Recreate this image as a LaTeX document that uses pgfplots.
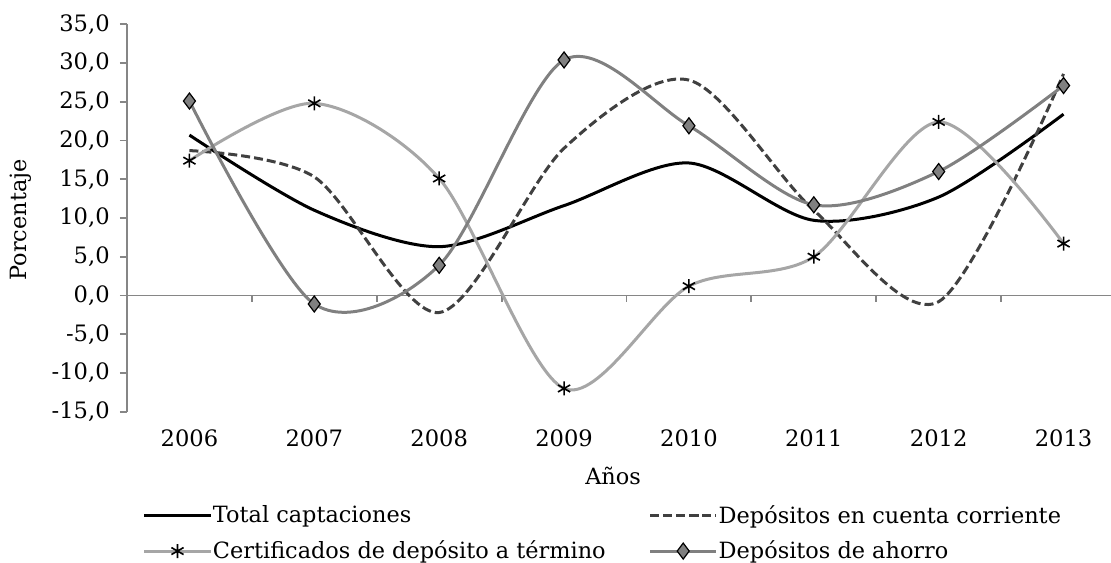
\documentclass[border=0pt]{standalone}
\usepackage{fontspec}
\setmainfont{DejaVu Serif}
\usepackage{pgfplots}
\pgfplotsset{compat=1.18}
\definecolor{axisgray}{RGB}{134,134,134}
\definecolor{ccgray}{RGB}{64,64,64}
\definecolor{certgray}{RGB}{166,166,166}
\definecolor{ahogray}{RGB}{128,128,128}
\newcommand{\lblfont}{\fontsize{11.3}{13}\selectfont}
\newcommand{\legfont}{\fontsize{11.2}{13}\selectfont}
\begin{document}
\lblfont
\begin{tikzpicture}
\begin{axis}[
  scale only axis, width=492pt, height=193.7pt,
  xmin=-0.5, xmax=7.38, ymin=-15, ymax=35,
  axis x line*=bottom, axis y line*=left,
  x axis line style={draw=none},
  y axis line style={color=axisgray, line width=0.9pt},
  xtick={0,1,2,3,4,5,6,7},
  xticklabels={2006,2007,2008,2009,2010,2011,2012,2013},
  xtick style={draw=none},
  ytick={-15,-10,-5,0,5,10,15,20,25,30,35},
  ytick style={color=axisgray, line width=0.9pt},
  tick align=outside, major tick length=3.5pt,
  /pgf/number format/assume math mode=true,
  yticklabel style={/pgf/number format/fixed, /pgf/number format/fixed zerofill, /pgf/number format/precision=1, /pgf/number format/use comma, font=\lblfont, xshift=-1.2pt},
  xticklabel style={font=\lblfont, yshift=-1.3pt},
  ylabel={Porcentaje},
  every axis y label/.style={at={(axis description cs:-0.1077,0.495)}, rotate=90, anchor=center, font=\legfont},
  xlabel={Años},
  every axis x label/.style={at={(axis description cs:0.494,0)}, anchor=center, yshift=-32pt, font=\legfont},
  legend columns=2,
  legend cell align=left,
  legend style={draw=none, fill=none, at={(axis description cs:0,0)}, anchor=north west,
    xshift=4.8pt, yshift=-42.5pt,
    font=\legfont,
    /tikz/every odd column/.append style={column sep=-1.5pt},
    /tikz/every even column/.append style={column sep=19.5pt},
    row sep=3pt},
  legend image code/.code={\draw[mark repeat=2,mark phase=2,#1] plot coordinates {(0pt,0pt) (16.5pt,0pt) (33pt,0pt)};},
]
\coordinate (TL) at (rel axis cs:0,1);
\draw[color=axisgray, line width=0.9pt] (axis cs:-0.5,0) -- (axis cs:7.38,0);
\pgfplotsinvokeforeach{0.5,1.5,2.5,3.5,4.5,5.5,6.5}{
  \draw[color=axisgray, line width=0.9pt] (axis cs:#1,0) -- ++(0pt,-3.5pt);
}
\addplot[black, line width=1.5pt, smooth] coordinates {(0,20.7)(1,11.0)(2,6.3)(3,11.6)(4,17.1)(5,9.7)(6,12.7)(7,23.4)};
\addlegendentry{Total captaciones}
\addplot[ccgray, line width=1.5pt, dash pattern=on 4.5pt off 2pt, smooth] coordinates {(0,18.7)(1,15.3)(2,-2.2)(3,19.0)(4,27.8)(5,11.0)(6,-0.8)(7,28.6)};
\addlegendentry{Depósitos en cuenta corriente}
\addplot[certgray, line width=1.5pt, smooth, mark=asterisk, mark size=3.5pt, mark options={black, solid, line width=0.8pt}] coordinates {(0,17.4)(1,24.8)(2,15.1)(3,-12.0)(4,1.2)(5,5.0)(6,22.4)(7,6.7)};
\addlegendentry{Certificados de depósito a término}
\addplot[ahogray, line width=1.5pt, smooth, mark=diamond*, mark size=4pt, mark options={fill=ahogray, draw=black, solid, line width=0.6pt}] coordinates {(0,25.1)(1,-1.1)(2,3.9)(3,30.4)(4,21.9)(5,11.7)(6,16.0)(7,27.1)};
\addlegendentry{Depósitos de ahorro}
\end{axis}
\pgfresetboundingbox
\path ([xshift=-63.5pt,yshift=12.15pt]TL) rectangle ([xshift=492pt,yshift=-268.85pt]TL);
\end{tikzpicture}
\end{document}
